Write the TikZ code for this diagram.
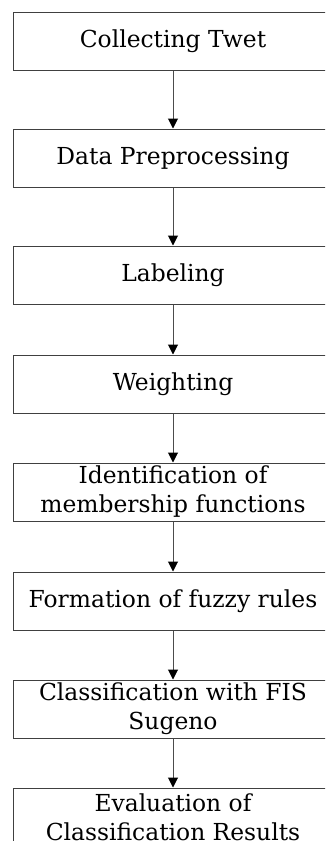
\documentclass[tikz,border=0pt]{standalone}
\usepackage{fontspec}
\setmainfont{DejaVu Serif}
\usetikzlibrary{arrows.meta}
\tikzset{
  stepbox/.style={draw=black!75, line width=1pt, rectangle, minimum width=320pt, minimum height=58pt,
    inner sep=0pt, align=center, font=\fontsize{23.4}{29}\selectfont, text=black},
  flowarrow/.style={draw=black!70, line width=1pt, -{Triangle[length=10pt,width=10pt,color=black]}}
}
\begin{document}
\begin{tikzpicture}[x=1pt,y=-1pt]
\useasboundingbox (0,0) rectangle (325,841);
\fill[white] (0,0) rectangle (325,841);
\clip (0,0) rectangle (325,841);
\node[stepbox] (b1) at (173,41) {Collecting Twet};
\node[stepbox] (b2) at (173,158) {Data Preprocessing};
\node[stepbox] (b3) at (173,275) {Labeling};
\node[stepbox] (b4) at (173,384) {Weighting};
\node[stepbox] (b5) at (173,492) {Identification of\\membership functions};
\node[stepbox] (b6) at (173,601) {Formation of fuzzy rules};
\node[stepbox] (b7) at (173,709) {Classification with FIS\\Sugeno};
\node[stepbox] (b8) at (173,817) {Evaluation of\\Classification Results};
\draw[flowarrow] (b1) -- (b2);
\draw[flowarrow] (b2) -- (b3);
\draw[flowarrow] (b3) -- (b4);
\draw[flowarrow] (b4) -- (b5);
\draw[flowarrow] (b5) -- (b6);
\draw[flowarrow] (b6) -- (b7);
\draw[flowarrow] (b7) -- (b8);
\end{tikzpicture}
\end{document}
